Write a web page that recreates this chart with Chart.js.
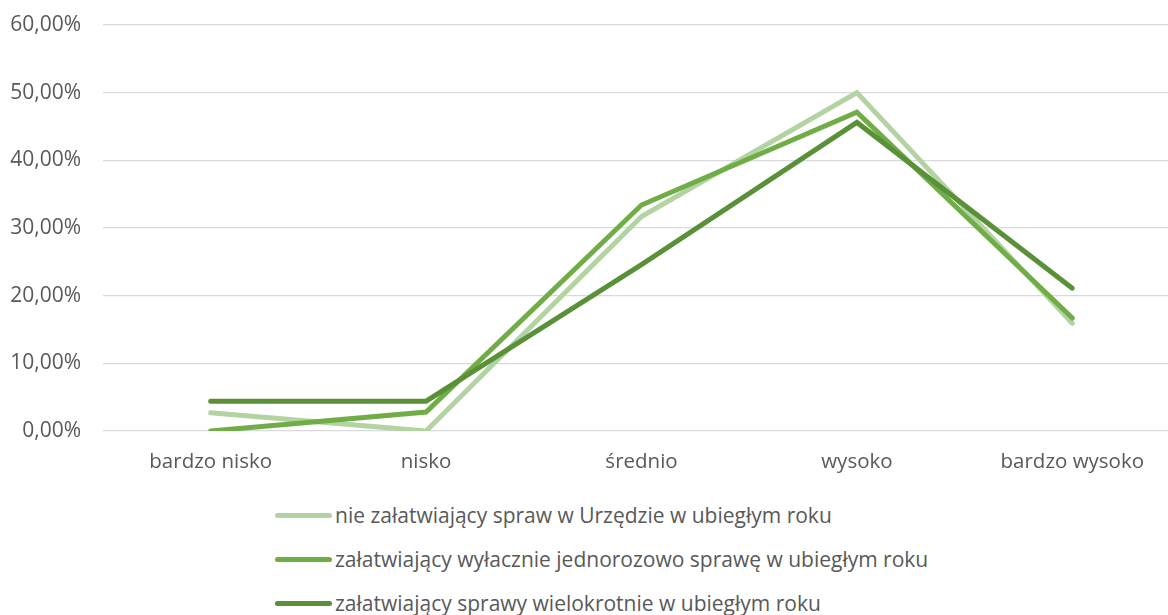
<!DOCTYPE html>
<html>
<head>
<meta charset="utf-8">
<script src="https://cdn.jsdelivr.net/npm/chart.js@4"></script>
<style>
  html, body { margin: 0; padding: 0; background: #fff; overflow: hidden; }
  #wrap { position: relative; width: 1168px; height: 615px; overflow: hidden; }
  #box { position: absolute; left: 0; top: 0; width: 1180px; height: 480px; }
  #legend { position: absolute; left: 275px; top: 493px; font-family: "Open Sans", sans-serif; font-size: 21px; color: #595959; }
  .item { height: 44px; display: flex; align-items: center; white-space: nowrap; }
  .swatch { width: 57px; height: 5px; border-radius: 3px; margin-right: 3px; }
</style>
</head>
<body>
<div id="wrap">
  <div id="box"><canvas id="c"></canvas></div>
  <div id="legend"></div>
</div>
<script>
// categories and values (%)
const categories = ["bardzo nisko", "nisko", "średnio", "wysoko", "bardzo wysoko"];
const seriesNames = [
  "nie załatwiający spraw w Urzędzie w ubiegłym roku",
  "załatwiający wyłacznie jednorozowo sprawę w ubiegłym roku",
  "załatwiający sprawy wielokrotnie w ubiegłym roku"
];
const nieZalatwiajacy = [2.7, 0, 31.7, 50.0, 15.9];
const jednorazowo     = [0, 2.8, 33.4, 47.1, 16.7];
const wielokrotnie    = [4.4, 4.4, 24.6, 45.6, 21.1];
const yTicks = [0, 10, 20, 30, 40, 50, 60];

const colors = ["#b3d3a3", "#70ad47", "#5a9038"];
const textColor = "#595959";
const font = "'Open Sans', sans-serif";

function pct(v) { return v.toFixed(2).replace(".", ",") + "%"; }

const seriesData = [nieZalatwiajacy, jednorazowo, wielokrotnie];

new Chart(document.getElementById("c"), {
  type: "line",
  data: {
    labels: categories,
    datasets: seriesData.map((d, i) => ({
      label: seriesNames[i],
      data: d,
      borderColor: colors[i],
      backgroundColor: colors[i],
      borderWidth: 5,
      borderCapStyle: "round",
      borderJoinStyle: "miter",
      pointRadius: 0,
      tension: 0,
      order: 3 - i
    }))
  },
  options: {
    responsive: true,
    maintainAspectRatio: false,
    animation: false,
    layout: { padding: { top: 25, bottom: 0, left: 0, right: 0 } },
    plugins: { legend: { display: false }, tooltip: { enabled: false } },
    scales: {
      x: {
        offset: true,
        grid: { display: false, drawTicks: false },
        border: { display: false },
        ticks: { color: textColor, font: { family: font, size: 20.5 }, padding: 19, maxRotation: 0 },
        afterFit: s => { s.height = 49; s.paddingLeft = 0; s.paddingRight = 0; }
      },
      y: {
        min: 0,
        max: 60,
        afterBuildTicks: s => { s.ticks = yTicks.map(v => ({ value: v })); },
        grid: { color: "#d9d9d9", lineWidth: 1.3, drawTicks: false },
        border: { display: false },
        ticks: { color: textColor, font: { family: font, size: 21 }, padding: 22, callback: v => pct(v) },
        afterFit: s => { s.width = 103; s.paddingTop = 0; s.paddingBottom = 0; }
      }
    }
  }
});

// legend: one entry per row, as in the original
const leg = document.getElementById("legend");
seriesNames.forEach((name, i) => {
  const row = document.createElement("div");
  row.className = "item";
  const sw = document.createElement("span");
  sw.className = "swatch";
  sw.style.background = colors[i];
  const t = document.createElement("span");
  t.textContent = name;
  row.appendChild(sw);
  row.appendChild(t);
  leg.appendChild(row);
});
</script>
</body>
</html>
